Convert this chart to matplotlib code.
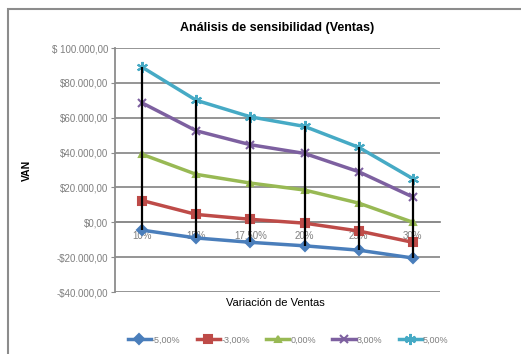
import matplotlib.pyplot as plt
from matplotlib.patches import Rectangle

categorias = ['10%', '15%', '17,50%', '20%', '25%', '30%']
series = ['-5,00%', '-3,00%', '0,00%', '3,00%', '5,00%']
van_m5 = [-4500, -9000, -11500, -13500, -16000, -20500]
van_m3 = [12500, 4500, 1700, -500, -5000, -11500]
van_0 = [39000, 27500, 22500, 18500, 11000, 0]
van_p3 = [68500, 52500, 44500, 39500, 29000, 14500]
van_p5 = [89000, 70000, 60500, 55000, 43000, 25000]
y_ticks = [-40000, -20000, 0, 20000, 40000, 60000, 80000, 100000]
y_labels = ['-$40.000,00', '-$20.000,00', '$0,00', '$20.000,00', '$40.000,00',
            '$60.000,00', '$80.000,00', '$ 100.000,00']

colores = ['#4A7EBB', '#BE4B48', '#98B954', '#7D60A0', '#46AAC5']
marcadores = ['D', 's', '^', 'x', (6, 2, 0)]
tamanos = [5, 6, 5, 6, 8]

plt.rcParams['font.family'] = ['Liberation Sans', 'DejaVu Sans']

fig = plt.figure(figsize=(5.21, 3.54), dpi=100)
fig.patches.append(Rectangle((8 / 521, -0.1), 1.2, 1 - 9 / 354 + 0.1,
                             transform=fig.transFigure, fill=False,
                             edgecolor='#8c8c8c', lw=1.5))

ax = fig.add_axes([115 / 521, 62 / 354, 325 / 521, 244 / 354])
x = list(range(len(categorias)))
datos = [van_m5, van_m3, van_0, van_p3, van_p5]

for vals, nombre, c, m, ms in zip(datos, series, colores, marcadores, tamanos):
    ax.plot(x, vals, color=c, lw=2.5, marker=m, ms=ms, mew=1.5,
            label=nombre, zorder=3)

# lineas de maximos y minimos
bajos = [min(v) for v in zip(*datos)]
altos = [max(v) for v in zip(*datos)]
ax.vlines(x, bajos, altos, color='black', lw=1.6, zorder=4)

ax.set_xlim(-0.5, 5.5)
ax.set_ylim(-40000, 100000)
ax.set_yticks(y_ticks)
ax.set_yticklabels(y_labels)
ax.set_xticks(x)
ax.set_xticklabels(categorias)
ax.grid(axis='y', color='#8c8c8c', lw=1.3)
ax.set_axisbelow(True)

for s in ['top', 'right']:
    ax.spines[s].set_visible(False)
ax.spines['left'].set_color('#8c8c8c')
ax.spines['left'].set_linewidth(1.3)
ax.spines['bottom'].set_position(('data', 0))
ax.spines['bottom'].set_color('#8c8c8c')
ax.spines['bottom'].set_linewidth(1.3)

ax.tick_params(axis='y', labelsize=7, labelcolor='#7f7f7f', color='#8c8c8c',
               length=3, pad=2)
ax.tick_params(axis='x', labelsize=7, labelcolor='#7f7f7f', length=0, pad=6)

ax.set_title('Análisis de sensibilidad (Ventas)', fontsize=9, fontweight='bold',
             pad=12)
ax.set_ylabel('VAN', fontsize=7.5, fontweight='bold', labelpad=14)
fig.text(275 / 521, 1 - 303 / 354, 'Variación de Ventas', fontsize=8,
         ha='center', va='center')

fig.legend(loc='center', bbox_to_anchor=(288 / 521, 1 - 340 / 354), ncol=5,
           frameon=False, fontsize=6.5, labelcolor='#7f7f7f', handlelength=2.6,
           columnspacing=1.8, handletextpad=0.1, markerscale=1.0)

fig.savefig('out.png', dpi=100)
